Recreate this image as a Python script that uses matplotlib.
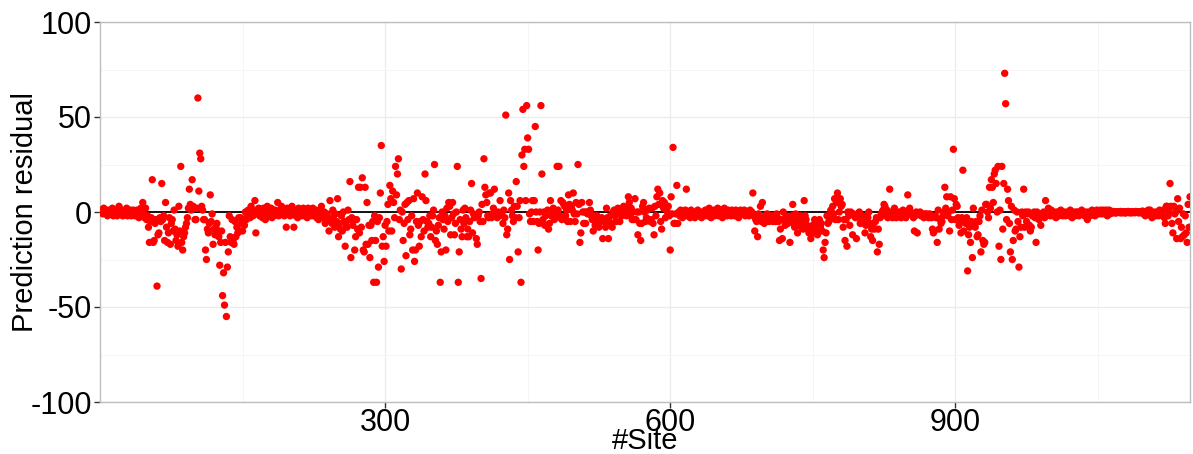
import numpy as np
import matplotlib
matplotlib.use("Agg")
import matplotlib.pyplot as plt

plt.rcParams['font.family'] = ['Liberation Sans', 'DejaVu Sans']

# ---- data: prediction residual per site ----
segment_start_site = [1, 101, 193, 290, 387, 483, 580, 677, 774, 871, 968, 1064]

res_0001 = [1, 0, -1, 2, 0, -1, 1, -2, 0, 1, -1, 0, 2, -2, -1, 1, 0, -2, -1, 3,
            0, -1, 1, -2, 0, -1, 1, 2, -2, 0, -1, 1, -2, 0, 1, -1, -2, 0, 1, -1,
            -3, 0, 2, -2, 5,
            -1, -3, 2, -4, -2, -8, -16, -5, -3, 17, -16, -15, -6, -4, -39, -12, -11, -3, -5, 15,
            -4, -2, -15, 5, -8, -16, -11, -3, -17, -6, -4, -10, 1, -9, -15, -12, -18, 3, -10, 24,
            -16, -20, -13, -11, -8, -6, -3, 2, 12, 4, 1, 17, 3, 2, -4]
res_0101 = [-4, 2, 60, 11, 31, 28, 3, 1, -4, -4, -20, -25, -9, -11, -6, 9, -5, -1, -17, -9,
            -12, -8, -6, -10, -13, -28, -16, -10, -44, -32, -49, -16, -55, -29, -21, -2, -13, -16, -4, -15,
            -17, -5, -13, -8, -11, -3, -10, -3, -6, -10, -5, -7, 0, -4, -2, 1, -1, -3, 3, 1,
            -2, 0, 6, -11, 1, -1, 2, -2, 0, 1, -3, 2, -1, -4, 0, 3, -2, 1, -1, 2,
            -3, 0, -2, 1, -1, 0, 5, -2, 1, -1, 3, 0]
res_0193 = [1, -2, 0, -8, 2, -1, 1, -2, 0, 3, -1, -8, 1, -2, 0, -3, 2, -1, 0, 1,
            -2, 2, -1, 0, 1, -3, 2, 0, -1, 1, -2, 2, 0, -1, 1, -3, 0, -4, 1, -2,
            3, -1, -3, 0, -6, -3, -1, -4, -10, 6, -4, -6, 1, -2, -8, -1, -5, 7, -13, -6,
            -9, -2, -10, 0, -5, -18, -7, -8, 1, -4, 16, -24, -3, -7, -4, -20, -13, -4, -9, 13,
            -11, 13, -8, 18, -20, -21, 13, -17, 5, -17, -7, -24, -7, -15, -5, -37, -2]
res_0290 = [-15, -37, -5, -29, -3, 10, 35, -18, -13, -26, -7, -18, -5, 4, -10, 14, 7, -10, 11, 5,
            -3, 24, 9, 20, 28, -4, 1, -30, 0, -15, -6, 4, -23, 5, -4, 6, -12, -9, -2, -20,
            7, -26, -20, -5, 10, -7, -18, -5, -13, 8, -4, -10, 20, 6, -5, -8, -6, -2, -13, -8,
            -2, 1, 25, -15, -10, -17, -7, -3, -37, -21, 0, -4, -9, -2, -20, 2, -5, 5, 3, -12,
            -3, 5, -1, -12, -6, 0, 24, -37, -21, -4, -9, -13, 1, -6, 2, -3, -13]
res_0387 = [-9, -13, -5, 1, 15, -11, -1, -3, -2, -14, -17, -2, 0, -5, -35, 4, -5, 28, 13, 9,
            5, -2, -3, 10, 10, -3, -1, 2, 12, -2, -1, -3, 0, -2, 6, -1, 0, -6, 1, -3,
            51, -12, -9, 10, -25, 6, 1, -2, -5, 3, -3, 16, 3, -21, -3, 6, -37, 30, 54, 24,
            33, 6, 56, 39, 33, -1, -5, 0, 6, -5, 6, 45, 0, -5, -20, -6, 0, 56, 20, -4,
            0, -7, -2, -7, 1, -9, -6, 6, -2, 1, 2, -4, 0, -3, 24, 1]
res_0483 = [24, -2, 6, -4, 5, 4, 3, -2, 1, -5, 9, 4, -5, 3, 1, 10, -1, -5, 5, -1,
            25, 4, -16, -11, 5, 0, -6, 0, -6, 0, -1, 0, 5, 1, -2, -4, -10, -2, -7, -4,
            -2, -5, -8, -4, -5, -3, -14, -4, -5, -8, 2, -3, -14, -5, -2, -6, -8, 0, 1, -2,
            -5, 0, 2, -1, -5, 0, -2, 2, 3, -1, 0, -2, 2, 8, 5, -2, 2, -4, 0, -4,
            7, -4, 0, -12, 0, -6, -15, -6, 3, 5, 0, -5, -3, 1, -4, 2, -5]
res_0580 = [-4, 2, -6, -12, 3, -2, 8, 12, 4, 10, -5, -9, 6, 2, 5, -3, 3, 0, 3, -2,
            -20, 8, -1, 34, -6, -6, -1, 14, -6, 0, -2, 1, -1, -3, 0, -1, 1, 12, -2, 0,
            -1, -3, 1, -2, 0, -1, -3, 0, -2, 1, -1, -2, 0, -3, -1, 0, -2, 1, -1, -2,
            0, 2, -1, -3, 0, -1, 1, -2, 0, -1, 2, -2, 0, -1, 1, -3, 0, 2, -1, 0,
            -2, 1, -1, 0, -2, 1, -1, 0, -2, 1, 0, -1, -3, 0, 1, -1, 0]
res_0677 = [-1, 1, -2, 0, -1, 0, -2, 1, -1, 0, 10, -2, -10, -4, -5, -13, -1, -2, 3, -5,
            5, -5, -6, -2, -3, -1, -3, -5, -2, -2, -3, -5, -2, -3, -5, -1, -3, -5, -15, -9,
            -4, -14, 0, -4, -7, -2, -4, -6, -3, -16, -4, -2, 4, -6, -8, -1, -3, -11, -4, -7,
            -2, -8, -5, -9, 6, -2, -4, -7, -9, -11, -10, -14, -9, -7, -11, -4, -7, -5, -12, -9,
            -4, -8, -6, -10, -20, -24, -16, -11, -2, -6, -5, -4, 1, -2, 3, -1, 7]
res_0774 = [-4, 5, 10, -4, 0, 7, 3, 4, -8, -4, -15, -4, -18, 0, -2, -7, 0, -1, -12, -1,
            -2, -3, -14, -2, -1, 0, -6, -5, -2, -3, -6, -11, -7, -2, -3, 0, -6, -13, -9, -15,
            -6, -9, -5, -3, -21, -9, -17, -3, -1, 0, 1, 4, 3, -2, 1, -3, -2, 12, -2, 0,
            -3, -1, 2, -2, -3, -1, -2, 0, -2, -3, -1, 1, -2, 0, -3, -1, 9, -1, 2, 0,
            -1, -2, -3, -10, -2, 0, -11, -1, -1, 0, -2, -1, -2, -3, -1, -2, -1]
res_0871 = [-2, -3, -1, -2, -3, -9, -11, -10, -2, -3, -16, 1, -9, -4, -6, -5, -2, 0, 13, 2,
            8, -2, 0, -10, 8, -4, 1, 33, 7, -4, 4, 3, -3, -7, -5, -11, -3, 22, -10, -5,
            -6, -3, -31, -12, -8, -16, -5, -24, 2, -6, -8, -5, -13, -12, -5, -2, -21, 1, -15, -17,
            -16, 4, 4, 0, -3, 13, 2, 17, 13, 5, 20, 22, 15, 0, 24, -18, 1, -25, 24, -9,
            15, 73, 57, -4, 12, 6, -6, -21, 3, -25, -15, 1, -10, -9, 0, -5, -29]
res_0968 = [-13, -8, 0, -2, 12, -8, 0, -5, -1, 0, -7, -10, -8, -2, -1, 0, -3, -16, 0, -2,
            -4, -1, -7, -2, -1, 0, -3, 6, -2, -1, 2, -1, -2, 1, -1, -2, 0, -1, -3, 0,
            -1, -2, 0, 1, -1, -2, -1, 0, -2, -1, 0, -1, -2, 1, -1, -3, 0, -1, -2, 0,
            -1, 0, -2, -1, 0, 1, -1, 0, -2, -1, 0, -4, -1, 0, -2, -1, 1, 0, -1, -2,
            0, 1, 0, -1, 0, 1, -1, 0, 1, -1, 0, 1, -2, 0, 1, -1]
res_1064 = [0, -0.5, 0.3, -0.3, 0, -0.6, 0.2, -0.2, 0, -0.4, 0.3, -0.5, 0, -0.3, 0.2, -0.6, 0, -0.2, 0.3, -0.4,
            0, -0.5, 0.2, -0.3, 0, -0.4, 0.3, -0.2, 0, -0.5, 0.2, -0.3, 0,
            0.5, -1, 0, -2, 0, -1, 1, 0, 1, -2, -3, -1, -2, 0, -2, -1, 0, -2, 1, -1,
            0, -2, 1, -3, -6, 3, 3, -2, 0, 15, 3, -6, -11, 3, -1, 0, -14, 7, -5, 2,
            -14, -8, -13, -1, -12, -2, -11, -16, 4, -8, 8]

segments = [res_0001, res_0101, res_0193, res_0290, res_0387, res_0483,
            res_0580, res_0677, res_0774, res_0871, res_0968, res_1064]

sites = np.concatenate([start + np.arange(len(seg)) for start, seg in zip(segment_start_site, segments)])
residual = np.concatenate([np.asarray(seg, dtype=float) for seg in segments])

x_ticks = [300, 600, 900]
y_ticks = [-100, -50, 0, 50, 100]

# ---- figure ----
fig = plt.figure(figsize=(11.93, 4.54), dpi=100)
ax = fig.add_axes([100 / 1193, 52 / 454, 1090 / 1193, 380 / 454])

ax.set_xlim(0, 1147)
ax.set_ylim(-100, 100)
ax.set_xticks(x_ticks)
ax.set_xticks([150, 450, 750, 1050], minor=True)
ax.set_yticks(y_ticks)
ax.set_yticks([-75, -25, 25, 75], minor=True)
ax.set_yticklabels([str(v) for v in y_ticks])

ax.grid(which='major', color='#ebebeb', linewidth=0.9)
ax.grid(which='minor', color='#f4f4f4', linewidth=0.6)
ax.set_axisbelow(True)

for s in ax.spines.values():
    s.set_color('#bdbdbd')
    s.set_linewidth(1.0)

ax.tick_params(axis='both', which='major', length=4, width=1, color='#333333',
               labelsize=22, labelcolor='black', pad=2)
ax.tick_params(axis='x', which='major', pad=0.5)
ax.tick_params(axis='both', which='minor', length=0)

ax.axhline(0, color='black', linewidth=1.3, zorder=2)
ax.scatter(sites, residual, s=28, color='#ff0000', edgecolors='none', zorder=3)

ax.set_xlabel('#Site', fontsize=21)
ax.set_ylabel('Prediction residual', fontsize=21)
ax.xaxis.set_label_coords(0.5, -0.066)
ax.yaxis.set_label_coords(-0.056, 0.5)

fig.savefig('out.png', dpi=100)
